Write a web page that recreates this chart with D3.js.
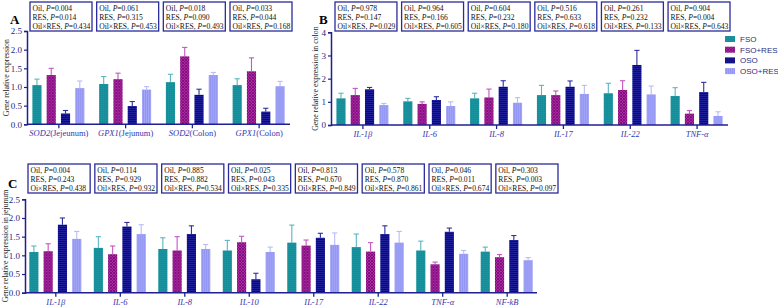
<!DOCTYPE html>
<html lang="en">
<head>
  <meta charset="UTF-8">
  <title>gene expression bars</title>
  <script src="https://cdn.jsdelivr.net/npm/d3@7/dist/d3.min.js"></script>
  <style>
    body { margin: 0; background: #fff; }
    svg { display: block; }
  </style>
</head>
<body>
<svg></svg>
<script>
  const width = 778, height = 307

  // groups / series
  const series = ['FSO', 'FSO+RES', 'OSO', 'OSO+RES']

  const catsA = ['SOD2(Jejeunum)', 'GPX1(Jejunum)', 'SOD2(Colon)', 'GPX1(Colon)']
  const fsoA = [1.05, 1.08, 1.13, 1.05]
  const fsoResA = [1.32, 1.21, 1.82, 1.42]
  const osoA = [0.29, 0.49, 0.79, 0.34]
  const osoResA = [0.97, 0.93, 1.32, 1.02]
  const errFsoA = [0.16, 0.20, 0.21, 0.17]
  const errFsoResA = [0.18, 0.16, 0.24, 0.36]
  const errOsoA = [0.08, 0.12, 0.15, 0.09]
  const errOsoResA = [0.19, 0.08, 0.07, 0.13]

  const catsB = ['IL-1β', 'IL-6', 'IL-8', 'IL-17', 'IL-22', 'TNF-α']
  const fsoB = [1.15, 1.02, 1.15, 1.29, 1.37, 1.25]
  const fsoResB = [1.29, 0.91, 1.19, 1.29, 1.51, 0.49]
  const osoB = [1.54, 1.08, 1.65, 1.65, 2.59, 1.42]
  const osoResB = [0.86, 0.82, 0.96, 1.34, 1.32, 0.39]
  const errFsoB = [0.22, 0.13, 0.22, 0.42, 0.43, 0.36]
  const errFsoResB = [0.29, 0.09, 0.36, 0.18, 0.40, 0.13]
  const errOsoB = [0.08, 0.14, 0.26, 0.25, 0.63, 0.42]
  const errOsoResB = [0.07, 0.18, 0.22, 0.37, 0.36, 0.18]

  const catsC = ['IL-1β', 'IL-6', 'IL-8', 'IL-10', 'IL-17', 'IL-22', 'TNF-α', 'NF-kB']
  const fsoC = [1.09, 1.20, 1.17, 1.13, 1.34, 1.22, 1.13, 1.10]
  const fsoResC = [1.11, 1.03, 1.13, 1.35, 1.26, 1.10, 0.76, 0.95]
  const osoC = [1.82, 1.77, 1.57, 0.36, 1.47, 1.57, 1.63, 1.41]
  const osoResC = [1.44, 1.57, 1.17, 1.09, 1.28, 1.34, 1.04, 0.87]
  const errFsoC = [0.16, 0.30, 0.30, 0.27, 0.47, 0.35, 0.25, 0.12]
  const errFsoResC = [0.20, 0.22, 0.37, 0.16, 0.15, 0.24, 0.06, 0.07]
  const errOsoC = [0.18, 0.11, 0.22, 0.16, 0.12, 0.22, 0.10, 0.12]
  const errOsoResC = [0.20, 0.25, 0.12, 0.13, 0.32, 0.30, 0.09, 0.07]

  // P values (Oil, RES, Oil×RES) for each group
  const termsA = ['Oil', 'RES', 'Oil×RES']
  const pA = [['0.004', '0.014', '0.434'], ['0.061', '0.315', '0.453'],
    ['0.018', '0.090', '0.493'], ['0.033', '0.044', '0.168']]
  const pB = [['0.978', '0.147', '0.029'], ['0.964', '0.166', '0.605'],
    ['0.604', '0.232', '0.180'], ['0.516', '0.633', '0.618'],
    ['0.261', '0.232', '0.133'], ['0.904', '0.004', '0.643']]
  const pC = [['0.004', '0.243', '0.438'], ['0.114', '0.929', '0.932'],
    ['0.885', '0.882', '0.534'], ['0.025', '0.043', '0.335'],
    ['0.813', '0.670', '0.849'], ['0.578', '0.870', '0.861'],
    ['0.046', '0.011', '0.674'], ['0.303', '0.003', '0.097']]
  const termsC0 = ['Oil', 'RES', 'Oi×RES'] // as printed in the original

  const ticksA = [0, 0.5, 1, 1.5, 2, 2.5]
  const ticksB = [0, 1, 2, 3, 4]

  const navy = '#1f1f8f'
  const serif = '"Liberation Serif", "DejaVu Serif", serif'
  const sans = '"Liberation Sans", Arial, sans-serif'

  const fills = ['url(#pFso)', 'url(#pFsoRes)', 'url(#pOso)', 'url(#pOsoRes)']
  const errColors = ['#5ab6bf', '#c457be', '#2f2f9e', '#babcf7']

  const svg = d3.select('svg')
      .attr('width', width)
      .attr('height', height)

  // hatch patterns
  const defs = svg.append('defs')
  function pattern(id, w, h, base, draw) {
    const p = defs.append('pattern').attr('id', id)
        .attr('patternUnits', 'userSpaceOnUse').attr('width', w).attr('height', h)
    p.append('rect').attr('width', w).attr('height', h).attr('fill', base)
    draw(p)
  }
  pattern('pFso', 2, 2, '#168d98', p => p.append('rect').attr('width', 1).attr('height', 1).attr('fill', '#1e98a3'))
  pattern('pFsoRes', 3, 3, '#b02aa9', p => {
    p.append('path').attr('d', 'M0,0L3,3M3,0L0,3').attr('stroke', '#74096f').attr('stroke-width', 0.8)
  })
  pattern('pOso', 2, 2, '#0a0a7c', p => p.append('rect').attr('width', 2).attr('height', 0.8).attr('fill', '#23239c'))
  pattern('pOsoRes', 2, 2, '#9194f2', p => p.append('rect').attr('width', 0.8).attr('height', 2).attr('fill', '#a8abf8'))

  function drawPanel(o) {
    const g = svg.append('g')
    const y = d3.scaleLinear().domain([0, o.ymax]).range([o.y0, o.y1])
    const x = d3.scalePoint().domain(o.cats).range([o.x0, o.x1]).padding(0.47)
    const xs = d3.scaleBand().domain(series).range([-26, 26]).paddingInner(0.36)

    const rows = o.cats.map((c, i) => series.map((s, j) => ({
      cat: c, s, j, v: o.vals[j][i], e: o.errs[j][i]
    }))).flat()

    const bars = g.append('g').selectAll('g')
        .data(rows)
        .join('g')
        .attr('transform', d => `translate(${x(d.cat) + xs(d.s)},0)`)

    // error bars (upper only)
    bars.append('line')
        .attr('x1', xs.bandwidth() / 2).attr('x2', xs.bandwidth() / 2)
        .attr('y1', d => y(d.v)).attr('y2', d => y(d.v + d.e))
        .attr('stroke', d => errColors[d.j]).attr('stroke-width', 1.1)
    bars.append('line')
        .attr('x1', xs.bandwidth() / 2 - 2.6).attr('x2', xs.bandwidth() / 2 + 2.6)
        .attr('y1', d => y(d.v + d.e)).attr('y2', d => y(d.v + d.e))
        .attr('stroke', d => errColors[d.j]).attr('stroke-width', 1.1)
    bars.append('rect')
        .attr('y', d => y(d.v))
        .attr('width', xs.bandwidth())
        .attr('height', d => y(0) - y(d.v))
        .attr('fill', d => fills[d.j])

    // y axis
    const ya = g.append('g')
        .attr('transform', `translate(${o.x0},0)`)
        .call(d3.axisLeft(y).tickValues(o.ticks).tickFormat(d3.format(o.fmt)).tickSize(3).tickPadding(2))
    ya.select('.domain').attr('stroke', navy).attr('stroke-width', 1.5)
    ya.selectAll('.tick line').attr('stroke', navy).attr('stroke-width', 1.2)
    ya.selectAll('.tick text').attr('fill', '#27277f')
        .style('font-family', serif).style('font-size', '9px')

    // x axis
    const xa = g.append('g')
        .attr('transform', `translate(0,${o.y0})`)
        .call(d3.axisBottom(x).tickSize(4).tickSizeOuter(0).tickPadding(2))
    xa.select('.domain').attr('stroke', navy).attr('stroke-width', 1.5)
        .attr('d', `M${o.x0},0H${o.x1}`)
    xa.selectAll('.tick line').attr('stroke', navy).attr('stroke-width', 1.3)
    xa.selectAll('.tick text')
        .attr('fill', '#3636b0')
        .style('font-family', serif).style('font-size', '8.5px')
        .each(function (d) {
          const m = d.match(/^([^(]+)(\(.*\))?$/)
          const t = d3.select(this).text(null)
          t.append('tspan').style('font-style', 'italic').text(m[1])
          if (m[2]) t.append('tspan').text(m[2])
        })

    // y label
    g.append('text')
        .attr('transform', `translate(${o.labelX},${(o.y0 + o.y1) / 2}) rotate(-90)`)
        .attr('text-anchor', 'middle')
        .style('font-family', serif).style('font-size', '7.8px')
        .attr('fill', '#222')
        .text(o.ylabel)

    // panel letter
    g.append('text')
        .attr('x', o.letterX).attr('y', o.letterY)
        .style('font-family', serif).style('font-size', '13px').style('font-weight', 'bold')
        .text(o.letter)

    // P-value boxes
    const bx = d3.scaleBand().domain(o.cats.map((c, i) => i))
        .range(o.boxRange).paddingInner(0.07)
    const boxes = g.append('g').selectAll('g')
        .data(o.p)
        .join('g')
        .attr('transform', (d, i) => `translate(${bx(i)},${o.boxY})`)
    boxes.append('rect')
        .attr('width', bx.bandwidth()).attr('height', 29)
        .attr('fill', '#fff').attr('stroke', '#2b2b9c').attr('stroke-width', 1.3)
    boxes.each(function (d, i) {
      const terms = o.terms(i)
      d.forEach((v, k) => {
        const t = d3.select(this).append('text')
            .attr('x', 2.5).attr('y', 8.6 + k * 9.2)
            .style('font-family', serif).style('font-size', '7.6px')
            .attr('fill', '#111')
        t.append('tspan').text(terms[k] + ', ')
        t.append('tspan').style('font-style', 'italic').text('P')
        t.append('tspan').text('=' + v)
      })
    })
  }

  drawPanel({
    cats: catsA, vals: [fsoA, fsoResA, osoA, osoResA],
    errs: [errFsoA, errFsoResA, errOsoA, errOsoResA],
    ymax: 2.5, ticks: ticksA, fmt: '.1f',
    x0: 27, x1: 290, y0: 124.3, y1: 31,
    ylabel: 'Gene relative expression', labelX: 9,
    letter: 'A', letterX: 10, letterY: 24,
    p: pA, terms: () => termsA, boxRange: [30, 292], boxY: 2
  })

  drawPanel({
    cats: catsB, vals: [fsoB, fsoResB, osoB, osoResB],
    errs: [errFsoB, errFsoResB, errOsoB, errOsoResB],
    ymax: 4, ticks: ticksB, fmt: 'd',
    x0: 331, x1: 728, y0: 125, y1: 32.3,
    ylabel: 'Gene relative expression in colon', labelX: 318,
    letter: 'B', letterX: 319, letterY: 24,
    p: pB, terms: () => termsA, boxRange: [335, 730], boxY: 2
  })

  drawPanel({
    cats: catsC, vals: [fsoC, fsoResC, osoC, osoResC],
    errs: [errFsoC, errFsoResC, errOsoC, errOsoResC],
    ymax: 2.5, ticks: ticksA, fmt: '.1f',
    x0: 25, x1: 537, y0: 292.7, y1: 199.3,
    ylabel: 'Gene relative expression in jejunum', labelX: 8,
    letter: 'C', letterX: 8, letterY: 188,
    p: pC, terms: i => i === 0 ? termsC0 : termsA, boxRange: [28, 558], boxY: 164
  })

  // legend
  const legend = svg.append('g')
      .selectAll('g')
      .data(series)
      .join('g')
      .attr('transform', (d, i) => `translate(725,${36 + i * 10.7})`)
  legend.append('rect')
      .attr('width', 10).attr('height', 6)
      .attr('fill', (d, i) => fills[i])
  legend.append('text')
      .attr('x', 15).attr('y', 6)
      .style('font-family', sans).style('font-size', '8px')
      .attr('fill', '#2d2d7d')
      .text(d => d)
</script>
</body>
</html>
